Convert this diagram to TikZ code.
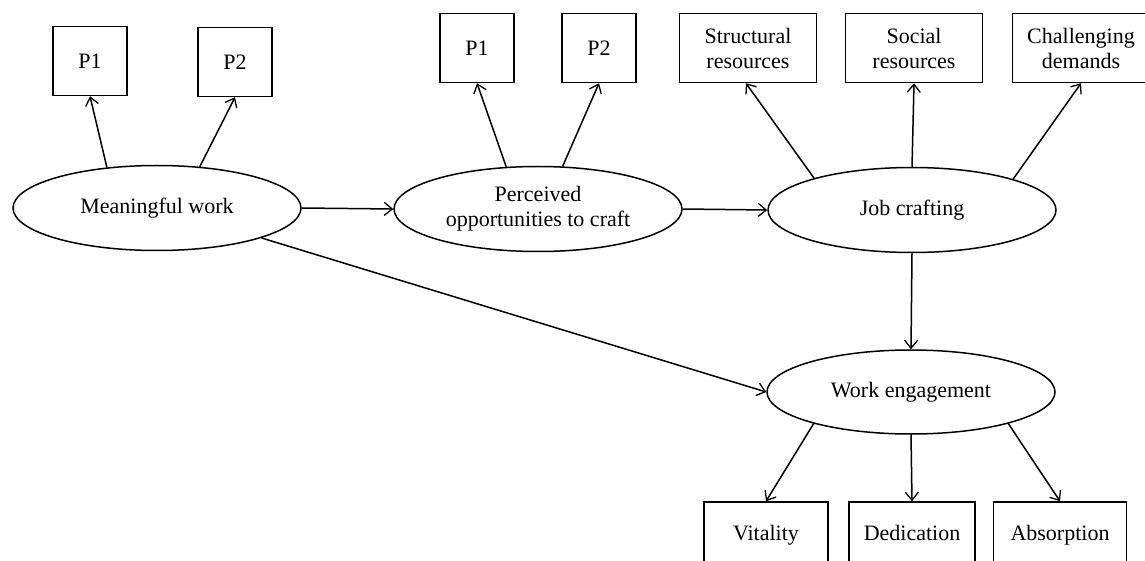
\documentclass[tikz,border=0pt]{standalone}
\usepackage{fontspec}
\setmainfont{Liberation Serif}
\usetikzlibrary{shapes.geometric,arrows.meta}

\begin{document}
\begin{tikzpicture}[x=1pt,y=-1pt,line width=1.5pt,
		>={Straight Barb[length=8pt,width=13pt,line width=1.3pt]},
		every node/.style={font=\fontsize{22}{25}\selectfont,align=center,inner sep=0pt},
		latent/.style={draw,ellipse,minimum width=288pt,minimum height=85pt},
		ind/.style={draw,rectangle,minimum width=74pt,minimum height=69pt},
		wide/.style={draw,rectangle,minimum width=137pt,minimum height=69pt},
		low/.style={draw,rectangle,minimum height=66pt,text height=15pt,text depth=5pt}]
				\clip (0,0) rectangle (1145,561);
				\node[latent] (mw) at (157, 208) {Meaningful work};
				\node[latent] (poc) at (538, 209) {Perceived\\opportunities to craft};
				\node[latent] (jc) at (912, 210) {Job crafting};
				\node[latent,minimum height=84pt] (we) at (911, 392) {Work engagement};
				\node[ind] (mwa) at (90, 61) {P1};
				\node[ind] (mwb) at (235, 62) {P2};
				\node[ind] (poca) at (477, 48) {P1};
				\node[ind] (pocb) at (599, 48) {P2};
				\node[wide] (str) at (748, 48) {Structural\\resources};
				\node[wide] (soc) at (914, 48) {Social\\resources};
				\node[wide] (cha) at (1081, 48) {Challenging\\demands};
				\node[low,minimum width=124pt] (vit) at (766, 535) {Vitality};
				\node[low,minimum width=126pt] (ded) at (912, 535) {Dedication};
				\node[low,minimum width=133pt] (abs) at (1060, 535) {Absorption};
				\draw[->] (mw.141) to (mwa.south);
				\draw[->] (mw.44) to (mwb.south);
				\draw[->] (poc.127) to (poca.south);
				\draw[->] (poc.60) to (pocb.south);
				\draw[->] (jc.162.6) to ([xshift=-2pt]str.south);
				\draw[->] (jc.north) to (soc.south);
				\draw[->] (jc.17.6) to (cha.south);
				\draw[->] (mw.east) to (poc.west);
				\draw[->] (poc.east) to (jc.west);
				\draw[->] (jc.south) to (we.north);
				\draw[->] (mw.-16.5) to (we.west);
				\draw[->] (we.-162) to (vit.north);
				\draw[->] (we.south) to (ded.north);
				\draw[->] (we.-18) to (abs.north);
			\end{tikzpicture}
\end{document}
